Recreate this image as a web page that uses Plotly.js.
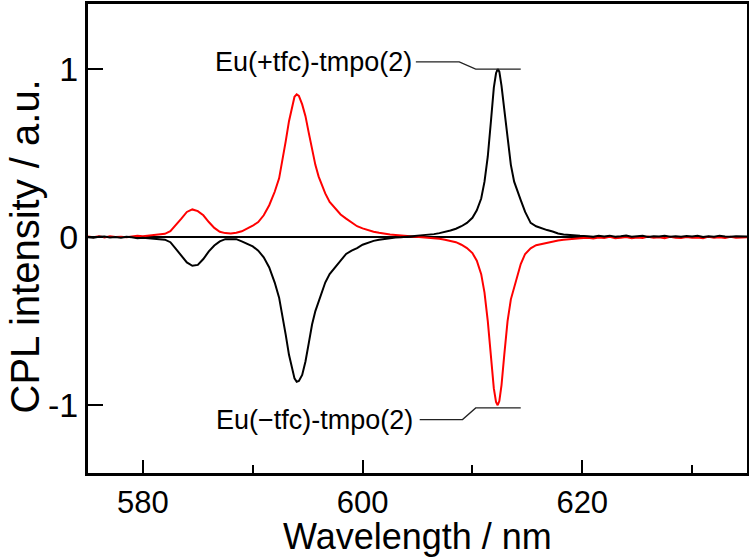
<!DOCTYPE html>
<html>
<head>
<meta charset="utf-8">
<script src="https://cdn.plot.ly/plotly-3.0.1.min.js"></script>
<style>html,body{margin:0;padding:0;background:#fff;}#chart{width:749px;height:557px;}</style>
</head>
<body>
<div id="chart"></div>
<script>
// Wavelength (nm)
const wavelength = [
  575, 575.5, 576, 576.5, 577, 577.5, 578, 578.5, 579, 579.5, 580, 580.5, 581, 581.5,
  582, 582.5, 583, 583.5, 584, 584.5, 585, 585.5, 586, 586.5, 587, 587.5, 588, 588.5,
  589, 589.5, 590, 590.5, 591, 591.5, 592,
  592.4, 592.7, 593.0, 593.3, 593.6, 593.8, 594.0, 594.2, 594.5, 594.8, 595.1, 595.4, 595.7,
  596.0, 596.3, 596.6, 597.0,
  597.5, 598, 598.5, 599, 599.5, 600, 600.5, 601, 601.5, 602, 602.5, 603, 603.5, 604,
  604.5, 605, 605.5, 606, 606.5, 607, 607.5, 608,
  608.5, 609, 609.5, 610, 610.4, 610.8, 611.1, 611.4, 611.7, 611.95, 612.15, 612.3, 612.45, 612.65, 612.9,
  613.2, 613.5, 613.8, 614.1, 614.4,
  614.8, 615.3, 615.8, 616.3, 616.8, 617.3, 617.8, 618.3, 618.8, 619.3, 619.8,
  620.5, 621, 621.5, 622, 622.5, 623, 623.5, 624, 624.5, 625, 625.5, 626, 626.5, 627,
  627.5, 628, 628.5, 629, 629.5, 630, 630.5, 631, 631.5, 632, 632.5, 633, 633.5, 634,
  634.5, 635
];

// Red trace: positive at 584/594 nm, negative at 612 nm
const redCPL = [
  0.004, 0.000, 0.006, -0.002, 0.005, 0.001, 0.003, 0.000, 0.004, 0.008, 0.006, 0.010, 0.012, 0.015,
  0.020, 0.035, 0.070, 0.110, 0.150, 0.165, 0.155, 0.130, 0.090, 0.055, 0.032, 0.024, 0.022, 0.026,
  0.035, 0.050, 0.068, 0.090, 0.130, 0.190, 0.270,
  0.350, 0.450, 0.570, 0.690, 0.790, 0.835, 0.850, 0.840, 0.790, 0.720, 0.620, 0.520, 0.430,
  0.360, 0.310, 0.260, 0.210,
  0.170, 0.135, 0.110, 0.085, 0.065, 0.052, 0.040, 0.032, 0.026, 0.020, 0.016, 0.013, 0.010, 0.008,
  0.005, 0.003, 0.001, -0.002, -0.006, -0.010, -0.016, -0.024,
  -0.030, -0.045, -0.065, -0.095, -0.140, -0.220, -0.330, -0.500, -0.720, -0.900, -0.980, -1.000, -0.975, -0.880, -0.700,
  -0.500, -0.370, -0.300, -0.240, -0.160,
  -0.100, -0.066, -0.048, -0.040, -0.034, -0.028, -0.020, -0.016, -0.012, -0.010, -0.006,
  -0.004, -0.008, -0.002, -0.005, 0.002, -0.006, -0.003, 0.001, -0.007, -0.002, -0.005, 0.003, -0.004, -0.001,
  -0.006, 0.002, -0.003, -0.005, 0.001, -0.004, -0.002, -0.006, 0.003, -0.003, -0.001, -0.005, 0.002, -0.004,
  -0.002, 0.000
];

// Black trace: negative at 584/594 nm, positive at 612 nm
const blackCPL = [
  0.000, -0.003, 0.002, 0.004, -0.002, 0.001, -0.004, 0.003, 0.000, -0.006, -0.004, -0.008, -0.010, -0.012,
  -0.015, -0.030, -0.070, -0.110, -0.150, -0.170, -0.165, -0.130, -0.085, -0.050, -0.025, -0.012, -0.010, -0.012,
  -0.025, -0.040, -0.055, -0.080, -0.120, -0.180, -0.270,
  -0.360, -0.460, -0.580, -0.700, -0.795, -0.840, -0.860, -0.855, -0.820, -0.740, -0.630, -0.520, -0.440,
  -0.380, -0.320, -0.270, -0.220,
  -0.180, -0.140, -0.100, -0.080, -0.065, -0.045, -0.033, -0.022, -0.015, -0.010, -0.005, -0.002, 0.000, 0.003,
  0.005, 0.008, 0.010, 0.013, 0.018, 0.024, 0.030, 0.040,
  0.050, 0.065, 0.085, 0.115, 0.160, 0.230, 0.330, 0.480, 0.700, 0.890, 0.975, 1.000, 0.985, 0.900, 0.760,
  0.580, 0.430, 0.330, 0.270, 0.220,
  0.150, 0.085, 0.065, 0.053, 0.042, 0.034, 0.022, 0.016, 0.012, 0.010, 0.008,
  0.006, 0.002, 0.008, 0.004, 0.009, 0.003, 0.006, 0.010, 0.002, 0.005, 0.008, 0.001, 0.006, 0.004,
  0.009, 0.003, 0.005, 0.002, 0.007, 0.004, 0.008, 0.001, 0.005, 0.003, 0.009, 0.004, 0.002, 0.006,
  0.003, 0.004
];

// Label texts and leader lines (data coordinates)
const labelPlus = "Eu(+tfc)-tmpo(2)";
const labelMinus = "Eu(\u2212tfc)-tmpo(2)";
const leaderPlusX = [604.85, 608.8, 610.3, 614.4];
const leaderPlusY = [1.043, 1.043, 1.0, 1.0];
const leaderMinusX = [605.2, 609.1, 610.3, 614.4];
const leaderMinusY = [-1.085, -1.085, -1.016, -1.016];

const xTickVals = [580, 600, 620];
const xTickText = ["580", "600", "620"];
const xMinorVals = [590, 610, 630];
const yTickVals = [-1, 0, 1];
const yTickText = ["-1", "0", "1"];

const FONT = "Liberation Sans, Arial, sans-serif";

const traces = [
  {x: wavelength, y: redCPL, type: 'scatter', mode: 'lines',
   line: {color: '#ff0000', width: 2}, hoverinfo: 'skip'},
  {x: wavelength, y: blackCPL, type: 'scatter', mode: 'lines',
   line: {color: '#000000', width: 2}, hoverinfo: 'skip'},
  {x: leaderPlusX, y: leaderPlusY, type: 'scatter', mode: 'lines',
   line: {color: '#222222', width: 1.3}, hoverinfo: 'skip'},
  {x: leaderMinusX, y: leaderMinusY, type: 'scatter', mode: 'lines',
   line: {color: '#222222', width: 1.3}, hoverinfo: 'skip'}
];

const layout = {
  width: 749, height: 557,
  margin: {l: 88, r: 2, t: 4, b: 84},
  paper_bgcolor: '#ffffff', plot_bgcolor: '#ffffff',
  showlegend: false,
  font: {family: FONT, color: '#000000'},
  xaxis: {
    range: [575, 635],
    tickvals: xTickVals, ticktext: xTickText,
    ticks: 'inside', ticklen: 13, tickwidth: 2, tickcolor: '#000',
    minor: {tickvals: xMinorVals, ticks: 'inside', ticklen: 8, tickwidth: 2, tickcolor: '#000'},
    showgrid: false, zeroline: false,
    showline: true, linecolor: '#000', linewidth: 3, mirror: true,
    tickfont: {family: FONT, size: 31, color: '#000'},
    automargin: false
  },
  yaxis: {
    range: [-1.403, 1.387],
    tickvals: yTickVals, ticktext: yTickText,
    ticks: 'inside', ticklen: 15, tickwidth: 2, tickcolor: '#000',
    showgrid: false,
    zeroline: true, zerolinecolor: '#000', zerolinewidth: 2,
    showline: true, linecolor: '#000', linewidth: 3, mirror: true,
    tickfont: {family: FONT, size: 34, color: '#000'},
    automargin: false
  },
  annotations: [
    {text: labelPlus, x: 604.7, y: 1.043, xref: 'x', yref: 'y', xanchor: 'right', yanchor: 'middle',
     showarrow: false, font: {family: FONT, size: 27, color: '#000'}},
    {text: labelMinus, x: 604.8, y: -1.085, xref: 'x', yref: 'y', xanchor: 'right', yanchor: 'middle',
     showarrow: false, font: {family: FONT, size: 27, color: '#000'}},
    {text: "Wavelength / nm", x: 0.5, y: 0, xref: 'paper', yref: 'paper', xanchor: 'center', yanchor: 'middle',
     yshift: -63, showarrow: false, font: {family: FONT, size: 36, color: '#000'}},
    {text: "CPL intensity / a.u.", x: 0, y: 0.5, xref: 'paper', yref: 'paper', xanchor: 'center', yanchor: 'middle',
     xshift: -64, yshift: -8, textangle: -90, showarrow: false, font: {family: FONT, size: 40, color: '#000'}}
  ]
};

Plotly.newPlot('chart', traces, layout, {staticPlot: true, displayModeBar: false});
</script>
</body>
</html>
